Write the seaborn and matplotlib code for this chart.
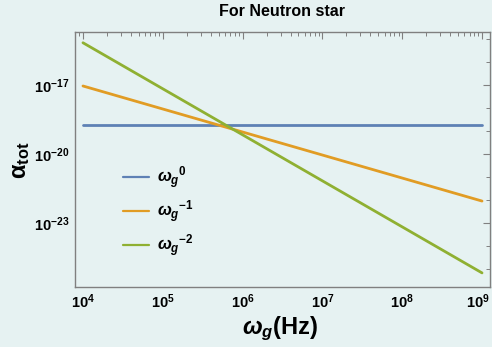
import numpy as np
import pandas as pd
import matplotlib
matplotlib.use("Agg")
import matplotlib.pyplot as plt
import matplotlib.ticker as mticker
import matplotlib.transforms as mtransforms
import seaborn as sns

# ---- data ----
omega = [1e4, 1e5, 1e6, 1e7, 1e8, 1e9]
alpha_w0 = [1.8e-19, 1.8e-19, 1.8e-19, 1.8e-19, 1.8e-19, 1.8e-19]
alpha_wm1 = [9.0e-18, 9.0e-19, 9.0e-20, 9.0e-21, 9.0e-22, 9.0e-23]
alpha_wm2 = [6.8e-16, 6.8e-18, 6.8e-20, 6.8e-22, 6.8e-24, 6.8e-26]
series_labels = [r"$\omega_g{}^{0}$", r"$\omega_g{}^{-1}$", r"$\omega_g{}^{-2}$"]
xtick_vals = [1e4, 1e5, 1e6, 1e7, 1e8, 1e9]
xtick_labels = [r"$10^{4}$", r"$10^{5}$", r"$10^{6}$", r"$10^{7}$", r"$10^{8}$", r"$10^{9}$"]
ytick_vals = [1e-17, 1e-20, 1e-23]
ytick_labels = [r"$10^{-17}$", r"$10^{-20}$", r"$10^{-23}$"]
title = "For Neutron star"
colors = ["#5E81B5", "#E19C24", "#8FB032"]

sns.set_theme(style="white")
plt.rcParams['font.family'] = ['Liberation Sans', 'DejaVu Sans']
plt.rcParams['font.weight'] = 'bold'
plt.rcParams['text.color'] = 'black'
plt.rcParams['xtick.labelcolor'] = 'black'
plt.rcParams['ytick.labelcolor'] = 'black'
plt.rcParams['mathtext.fontset'] = 'custom'
plt.rcParams['mathtext.rm'] = 'Liberation Sans:bold'
plt.rcParams['mathtext.bf'] = 'Liberation Sans:bold'
plt.rcParams['mathtext.it'] = 'Liberation Sans:bold:italic'
plt.rcParams['mathtext.sf'] = 'Liberation Sans:bold'

bg = "#E6F2F2"
df = pd.DataFrame({
    "omega": omega * 3,
    "alpha": alpha_w0 + alpha_wm1 + alpha_wm2,
    "series": [series_labels[0]] * 6 + [series_labels[1]] * 6 + [series_labels[2]] * 6,
})

fig = plt.figure(figsize=(4.92, 3.47), dpi=100, facecolor=bg)
ax = fig.add_axes([75 / 492, 1 - 287 / 347, (490 - 75) / 492, (287 - 32) / 347])
ax.set_facecolor(bg)

sns.lineplot(data=df, x="omega", y="alpha", hue="series", palette=colors,
             hue_order=series_labels, linewidth=2.0, ax=ax, legend=False)

ax.set_xscale("log")
ax.set_yscale("log")
ax.set_xlim(10 ** 3.9, 10 ** 9.1)
ax.set_ylim(10 ** -25.78, 10 ** -14.7)

ax.xaxis.set_major_locator(mticker.FixedLocator(xtick_vals))
ax.xaxis.set_minor_locator(mticker.LogLocator(base=10, subs=np.arange(2, 10)))
ax.set_xticklabels(xtick_labels)
ax.xaxis.set_minor_formatter(mticker.NullFormatter())
ax.yaxis.set_major_locator(mticker.FixedLocator(ytick_vals))
ax.yaxis.set_minor_locator(mticker.FixedLocator([10.0 ** k for k in range(-26, -14)]))
ax.set_yticklabels(ytick_labels)
ax.yaxis.set_minor_formatter(mticker.NullFormatter())

spine_col = "#808080"
for s in ax.spines.values():
    s.set_color(spine_col)
    s.set_linewidth(1.0)
ax.tick_params(which="both", direction="in", top=True, right=True, color=spine_col,
               labelsize=10.5, pad=4)
ax.tick_params(which="major", length=5, width=0.8)
ax.tick_params(which="minor", length=3, width=0.7)
ax.set_xlabel("")
ax.set_ylabel("")

# nudge the last x tick label so it stays inside the figure
last = ax.get_xticklabels()[-1]
last.set_transform(last.get_transform() +
                   mtransforms.ScaledTranslation(-4 / 100, 0, fig.dpi_scale_trans))

# legend
handles = [plt.Line2D([], [], color=c, lw=1.6) for c in colors]
ax.legend(handles, series_labels, loc="upper left", bbox_to_anchor=(0.08, 0.54),
          frameon=False, fontsize=12, handlelength=1.55, labelspacing=0.45,
          handletextpad=0.45, labelcolor="black")

fig.text(282 / 492, 1 - 12 / 347, title, ha="center", va="center",
         fontsize=11.5, fontweight="bold")
fig.text(280 / 492, 1 - 329 / 347, r"$\omega_g$(Hz)", ha="center", va="center",
         fontsize=17, fontweight="bold")
fig.text(20 / 492, 1 - 160 / 347, r"$\mathrm{\alpha}_{\mathrm{tot}}$", ha="center",
         va="center", fontsize=17, fontweight="bold", rotation=90)

fig.savefig("out.png", dpi=100, facecolor=bg)
